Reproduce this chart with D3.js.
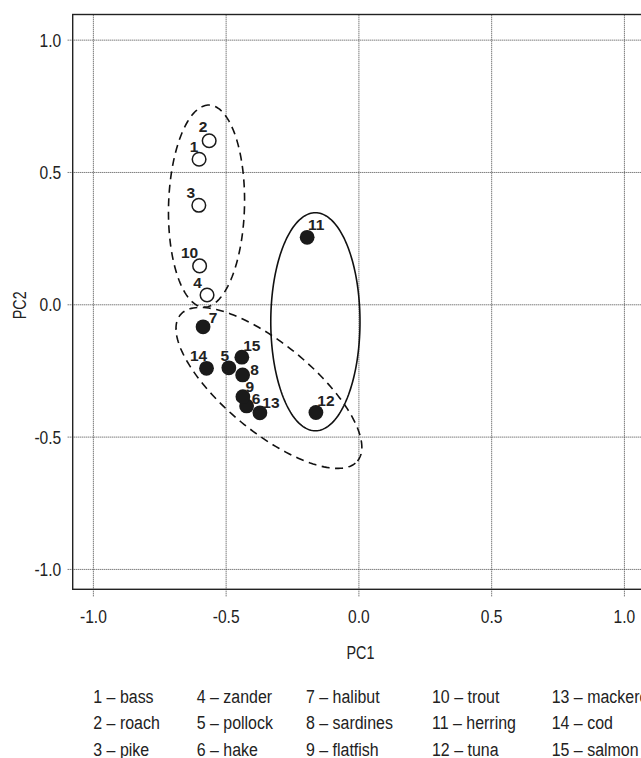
<!DOCTYPE html>
<html>
<head>
<meta charset="utf-8">
<script src="https://cdn.jsdelivr.net/npm/d3@7"></script>
<style>
  html, body { margin: 0; padding: 0; background: #fff; overflow: hidden; }
  svg { display: block; }
  .narrow { font-family: "Liberation Sans", Arial, sans-serif; fill: #222; }
</style>
</head>
<body>
<svg id="svg" width="660" height="758"></svg>
<script>
// fish scores on the first two principal components
const fishIds   = [1, 2, 3, 4, 5, 6, 7, 8, 9, 10, 11, 12, 13, 14, 15];
const fishNames = ["bass", "roach", "pike", "zander", "pollock", "hake", "halibut", "sardines",
                   "flatfish", "trout", "herring", "tuna", "mackerel", "cod", "salmon"];
const pc1 = [-0.600, -0.562, -0.601, -0.570, -0.488, -0.421, -0.585, -0.436,
             -0.435, -0.598, -0.193, -0.160, -0.371, -0.572, -0.439];
const pc2 = [0.548, 0.618, 0.374, 0.035, -0.240, -0.384, -0.085, -0.267,
             -0.349, 0.145, 0.253, -0.409, -0.410, -0.242, -0.200];
const habitat = ["fresh", "fresh", "fresh", "fresh", "sea", "sea", "sea", "sea",
                 "sea", "fresh", "sea", "sea", "sea", "sea", "sea"];

// group ellipses (centre, semi axes, rotation in degrees), in PC units
const ellCx    = [-0.572, -0.162, -0.337];
const ellCy    = [0.371, -0.066, -0.316];
const ellA     = [0.382, 0.412, 0.433];
const ellB     = [0.143, 0.168, 0.166];
const ellAngle = [88.5, 90, -39.6];
const ellDash  = [true, false, true];

const xTicks = [-1, -0.5, 0, 0.5, 1];
const yTicks = [-1, -0.5, 0, 0.5, 1];

// ---- layout ----
const plotL = 72.7, plotR = 644.1, plotT = 14.5, plotB = 589.3;
const SQ = 0.82; // horizontal squeeze, no narrow font installed
const svg = d3.select("#svg");

const x = d3.scaleLinear().domain([-1.076, 1.076]).range([plotL, plotR]);
const y = d3.scaleLinear().domain([-1.077, 1.095]).range([plotB, plotT]);
const fmt = d => d.toFixed(1);

// y axis + horizontal grid
const gy = svg.append("g")
  .attr("transform", `translate(${plotL},0)`)
  .call(d3.axisLeft(y).tickValues(yTicks).tickFormat(fmt)
    .tickSizeInner(-(plotR - plotL)).tickSizeOuter(0).tickPadding(11.5));
gy.select(".domain").remove();
gy.selectAll(".tick line")
  .attr("x1", -5)
  .attr("stroke", "#444").attr("stroke-width", 1).attr("stroke-dasharray", "1,1");
gy.selectAll(".tick text")
  .attr("class", "narrow").attr("font-size", 19).attr("dy", "0.34em")
  .attr("x", -11.5 / SQ)
  .attr("transform", `scale(${SQ},1)`);

// x axis + vertical grid
const gx = svg.append("g")
  .attr("transform", `translate(0,${plotB})`)
  .call(d3.axisBottom(x).tickValues(xTicks).tickFormat(fmt)
    .tickSizeInner(-(plotB - plotT)).tickSizeOuter(0).tickPadding(20));
gx.select(".domain").remove();
gx.selectAll(".tick line")
  .attr("y1", 7)
  .attr("stroke", "#444").attr("stroke-width", 1).attr("stroke-dasharray", "1,1");
gx.selectAll(".tick text")
  .attr("class", "narrow").attr("font-size", 19)
  .attr("transform", `scale(${SQ},1)`);

// frame
svg.append("rect")
  .attr("x", plotL).attr("y", plotT)
  .attr("width", plotR - plotL).attr("height", plotB - plotT)
  .attr("fill", "none").attr("stroke", "#222").attr("stroke-width", 1.4);

// axis titles
svg.append("text").attr("class", "narrow")
  .attr("transform", `translate(${x(0) + 2},659) scale(${SQ},1)`)
  .attr("text-anchor", "middle").attr("font-size", 17.5).text("PC1");
svg.append("text").attr("class", "narrow")
  .attr("transform", `translate(26,${y(0) + 1}) rotate(-90) scale(${SQ},1)`)
  .attr("text-anchor", "middle").attr("font-size", 17.5).text("PC2");

// ellipses
const ellLine = d3.line().x(p => x(p[0])).y(p => y(p[1])).curve(d3.curveLinearClosed);
const ellipses = ellCx.map((cx, i) => {
  const th = ellAngle[i] * Math.PI / 180;
  return d3.range(0, 360, 2).map(deg => {
    const t = deg * Math.PI / 180;
    const u = ellA[i] * Math.cos(t), v = ellB[i] * Math.sin(t);
    return [cx + u * Math.cos(th) - v * Math.sin(th), ellCy[i] + u * Math.sin(th) + v * Math.cos(th)];
  });
});
svg.append("g").selectAll("path")
  .data(ellipses)
  .join("path")
  .attr("d", ellLine)
  .attr("fill", "none")
  .attr("stroke", "#111")
  .attr("stroke-width", 1.6)
  .attr("stroke-dasharray", (d, i) => ellDash[i] ? "8,5.5" : null);

// points
const fish = fishIds.map((id, i) => ({id, name: fishNames[i], x: pc1[i], y: pc2[i], hab: habitat[i]}));
svg.append("g").selectAll("circle")
  .data(fish)
  .join("circle")
  .attr("cx", d => x(d.x))
  .attr("cy", d => y(d.y))
  .attr("r", d => d.hab === "fresh" ? 6.8 : 7.4)
  .attr("fill", d => d.hab === "fresh" ? "#fff" : "#1a1a1a")
  .attr("stroke", "#1a1a1a")
  .attr("stroke-width", d => d.hab === "fresh" ? 1.5 : 0);

// point labels, nudged by hand like the original
const labelNudge = {
  1: [-5, -13], 2: [-6, -14.5], 3: [-8, -13], 4: [-9.5, -13], 5: [-4, -12.5],
  6: [9.5, -7.5], 7: [10, -9], 8: [12, -6], 9: [7, -10.5], 10: [-10, -13],
  11: [9, -12.5], 12: [10, -12.5], 13: [11, -10], 14: [-8, -12.5], 15: [10, -11.5]
};
svg.append("g").selectAll("text")
  .data(fish)
  .join("text")
  .attr("x", d => x(d.x) + labelNudge[d.id][0])
  .attr("y", d => y(d.y) + labelNudge[d.id][1])
  .attr("text-anchor", "middle")
  .attr("dy", "0.36em")
  .attr("font-family", "'Liberation Sans', Arial, sans-serif")
  .attr("font-weight", "bold")
  .attr("font-size", 15.5)
  .attr("fill", "#222")
  .text(d => d.id);

// legend, 5 columns of 3
const colX = [93.3, 196.7, 306, 432, 551.7];
const rowY = [702.7, 729.3, 756];
svg.append("g").selectAll("text")
  .data(fish)
  .join("text")
  .attr("class", "narrow")
  .attr("transform", (d, i) => `translate(${colX[Math.floor(i / 3)]},${rowY[i % 3]}) scale(0.84,1)`)
  .attr("font-size", 19)
  .text(d => `${d.id} \u2013 ${d.name}`);
</script>
</body>
</html>
